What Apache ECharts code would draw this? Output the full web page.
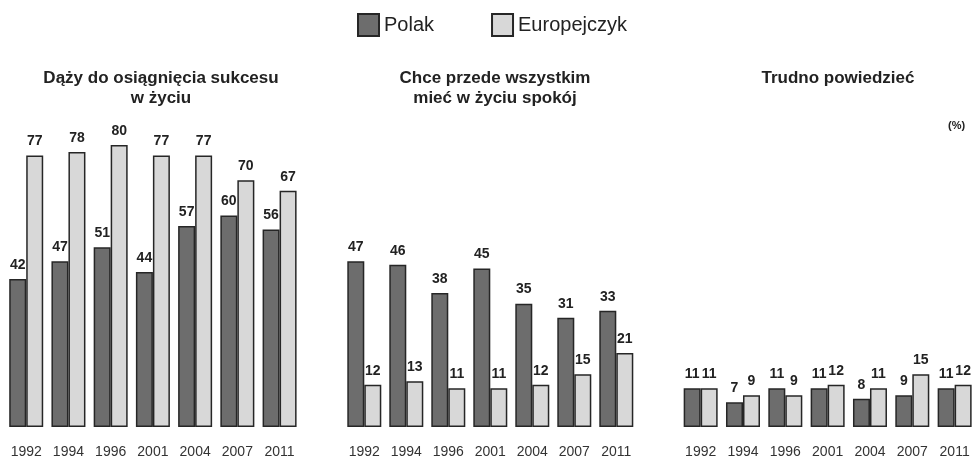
<!DOCTYPE html>
<html>
<head>
<meta charset="utf-8">
<script src="https://cdn.jsdelivr.net/npm/echarts@6/dist/echarts.min.js"></script>
<style>
html,body{margin:0;padding:0;background:#fff;}
#c{width:979px;height:463px;}
</style>
</head>
<body>
<div id="c"></div>
<script>
var years = ['1992','1994','1996','2001','2004','2007','2011'];
var panelTitles = ['Dąży do osiągnięcia sukcesu\nw życiu', 'Chce przede wszystkim\nmieć w życiu spokój', 'Trudno powiedzieć'];
var seriesNames = ['Polak', 'Europejczyk'];
var polakSukces = [42, 47, 51, 44, 57, 60, 56];
var europaSukces = [77, 78, 80, 77, 77, 70, 67];
var polakSpokoj = [47, 46, 38, 45, 35, 31, 33];
var europaSpokoj = [12, 13, 11, 11, 12, 15, 21];
var polakTrudno = [11, 7, 11, 11, 8, 9, 11];
var europaTrudno = [11, 9, 9, 12, 11, 15, 12];
var unitLabel = '(%)';

var FONT = 'Liberation Sans, Arial, sans-serif';
var panels = [[polakSukces, europaSukces], [polakSpokoj, europaSpokoj], [polakTrudno, europaTrudno]];
var grids = [
  {left: 5.1, width: 295.6},
  {left: 343.3, width: 294},
  {left: 679.5, width: 296.3}
];
var titleX = [156, 490, 833];
var colors = ['#6d6d6d', '#d8d8d8'];

var option = {
  animation: false,
  backgroundColor: '#fff',
  textStyle: {fontFamily: FONT},
  legend: {
    data: seriesNames.map(function (n) { return {name: n, icon: 'rect'}; }),
    left: 352, top: 8,
    itemWidth: 21, itemHeight: 22, itemGap: 57,
    textStyle: {fontFamily: FONT, fontSize: 20, color: '#222'}
  },
  title: panelTitles.map(function (t, i) {
    return {
      text: t, left: titleX[i], top: 63, textAlign: 'center',
      textStyle: {fontFamily: FONT, fontSize: 17, fontWeight: 'bold', color: '#222', lineHeight: 20}
    };
  }),
  graphic: [{
    type: 'text', left: 948, top: 120,
    style: {text: unitLabel, font: 'bold 11px ' + FONT, fill: '#222'}
  }],
  grid: grids.map(function (g) {
    return {left: g.left, width: g.width, top: 145, bottom: 36, containLabel: false};
  }),
  xAxis: grids.map(function (g, i) {
    return {
      type: 'category', gridIndex: i, data: years,
      axisLine: {show: false}, axisTick: {show: false},
      axisLabel: {fontFamily: FONT, fontSize: 14, color: '#333', margin: 18}
    };
  }),
  yAxis: grids.map(function (g, i) {
    return {type: 'value', gridIndex: i, min: 0, max: 80, show: false, splitLine: {show: false}};
  }),
  series: []
};

panels.forEach(function (p, i) {
  p.forEach(function (vals, j) {
    option.series.push({
      type: 'bar', name: seriesNames[j], xAxisIndex: i, yAxisIndex: i,
      data: vals, barWidth: 17, barGap: '0%',
      itemStyle: {color: colors[j], borderColor: '#262626', borderWidth: 1.5},
      label: {show: true, position: 'top', distance: 7, fontFamily: FONT, fontSize: 14, fontWeight: 'bold', color: '#222'}
    });
  });
});

var chart = echarts.init(document.getElementById('c'), null, {renderer: 'canvas'});
chart.setOption(option);
</script>
</body>
</html>
